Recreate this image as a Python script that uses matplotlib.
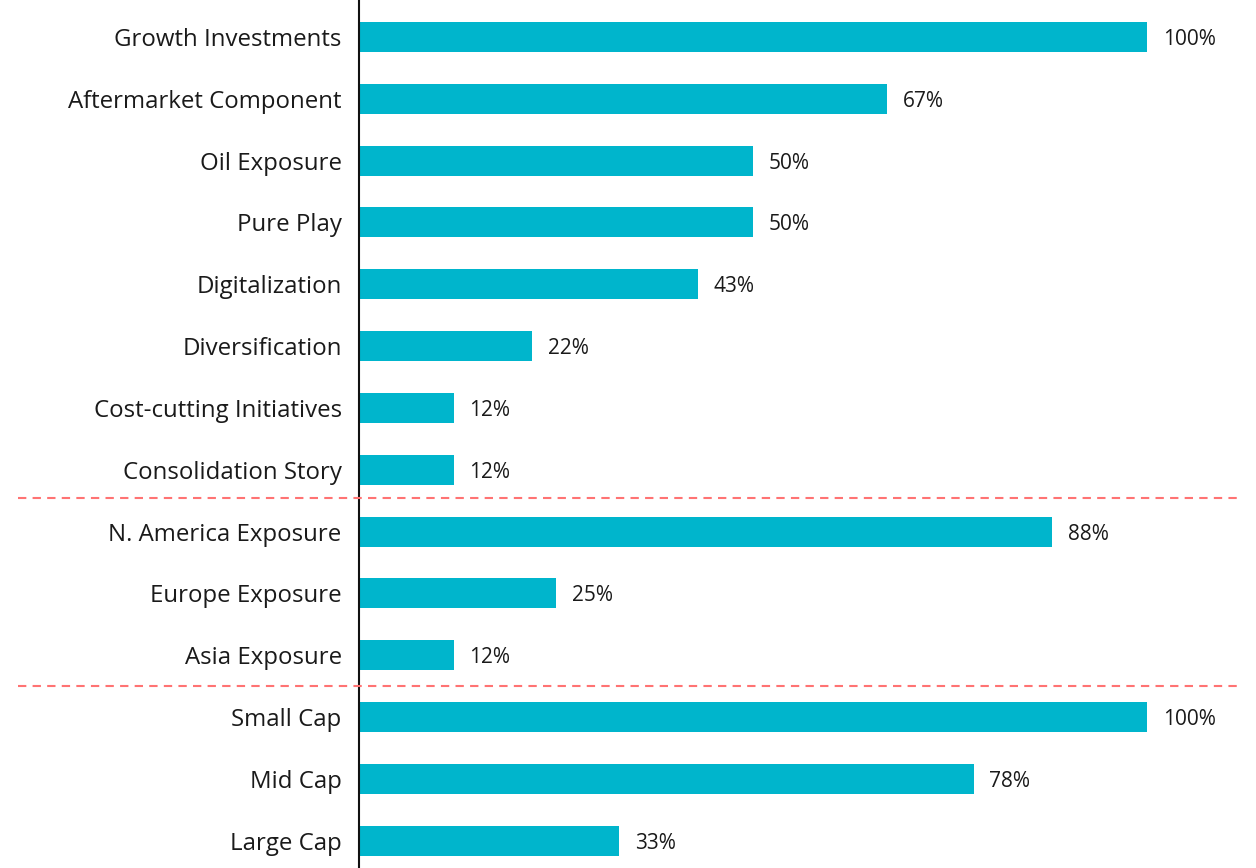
import matplotlib
matplotlib.use("Agg")
import matplotlib.pyplot as plt
from matplotlib.lines import Line2D
from matplotlib import transforms

categories = ["Growth Investments", "Aftermarket Component", "Oil Exposure", "Pure Play",
              "Digitalization", "Diversification", "Cost-cutting Initiatives", "Consolidation Story",
              "N. America Exposure", "Europe Exposure", "Asia Exposure",
              "Small Cap", "Mid Cap", "Large Cap"]
values = [100, 67, 50, 50, 43, 22, 12, 12, 88, 25, 12, 100, 78, 33]
separators = [7.45, 10.5]

plt.rcParams['font.family'] = ['Open Sans', 'DejaVu Sans']

fig = plt.figure(figsize=(12.56, 8.68), dpi=100)
ax = fig.add_axes([359/1256, 0, (1240-359)/1256, 1])

y = list(range(len(categories)))
ax.barh(y, values, height=0.485, color="#00B5CC")
ax.set_xlim(0, 111.8)
ax.set_ylim(13.44, -0.598)
ax.set_yticks(y)
ax.set_yticklabels(categories, fontsize=17.3, color="#1a1a1a")
ax.tick_params(axis='y', length=0, pad=12.5)
ax.set_xticks([])
for s in ["top", "right", "bottom"]:
    ax.spines[s].set_visible(False)
ax.spines["left"].set_linewidth(1.5)
ax.spines["left"].set_color("#111111")

for yi, v in zip(y, values):
    ax.text(v + 2.0, yi, f"{v}%", va="center_baseline", ha="left", fontsize=15, color="#1a1a1a")

tr = transforms.blended_transform_factory(fig.transFigure, ax.transData)
for s in separators:
    fig.add_artist(Line2D([18/1256, 1240/1256], [s, s], transform=tr,
                          color="#FF7373", linestyle=(0, (4, 3)), linewidth=1.5))

fig.savefig("out.png", dpi=100)
